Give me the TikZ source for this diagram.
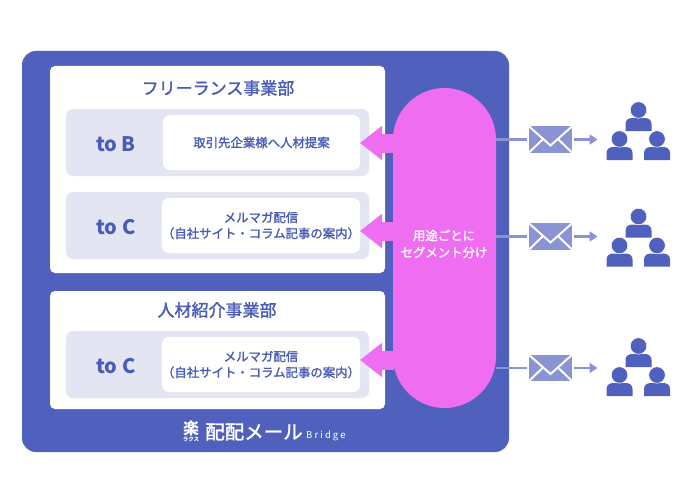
\documentclass[tikz,border=0pt]{standalone}
\usepackage{fontspec}
\setmainfont{Noto Sans CJK JP}
\newfontfamily\midfont[FakeBold=1.6]{Noto Sans CJK JP}
\usepackage{xcolor}
\usetikzlibrary{arrows.meta,positioning,calc,shapes.misc}
\definecolor{PanelC}{RGB}{79,97,189}
\definecolor{RowC}{RGB}{227,229,243}
\definecolor{PinkC}{RGB}{239,109,240}
\definecolor{MailC}{RGB}{138,147,212}
\definecolor{TextC}{RGB}{74,92,181}
\newcommand{\fs}[1]{\fontsize{#1}{#1}\selectfont}
\tikzset{
  panel/.style={rectangle,rounded corners=14pt,fill=PanelC,minimum width=487pt,minimum height=401pt,outer sep=0pt},
  dept/.style={rectangle,rounded corners=5pt,fill=white,minimum width=335pt,outer sep=0pt},
  depttitle/.style={font=\fs{17}\midfont,text=TextC,inner sep=0pt},
  rowbox/.style={rectangle,rounded corners=7pt,fill=RowC,minimum width=303pt,minimum height=67pt,outer sep=0pt},
  msgbox/.style={rectangle,rounded corners=7pt,fill=white,minimum width=197pt,minimum height=55pt,
                 font=\fs{12.4}\midfont,text=TextC,align=center,inner sep=0pt,outer sep=0pt},
  tolabel/.style={font=\fs{20}\bfseries,text=TextC,inner sep=0pt},
  segpill/.style={rounded rectangle,rounded rectangle arc length=180,fill=PinkC,minimum width=320pt,
                  minimum height=103pt,rotate=90,inner sep=0pt,outer sep=0pt},
  segtext/.style={font=\fs{12.4}\midfont,text=white,align=center,inner sep=0pt},
  segarrow/.style={-{Triangle[length=22pt,width=33pt]},line width=19pt,PinkC},
  mail/.style={rectangle,fill=MailC,minimum width=45pt,minimum height=28pt,inner sep=0pt,outer sep=0pt},
  mailline/.style={draw=white,line width=2pt},
  send/.style={-{Triangle[length=8pt,width=10pt]},line width=2.4pt,MailC},
  head/.style={circle,fill=PanelC,draw=white,line width=0.5pt,minimum size=16.5pt,inner sep=0pt,outer sep=0pt},
  pics/person/.style={code={
    \fill[PanelC] (-13,21) -- (-13,14) .. controls (-13,10) and (-10,8) .. (-6,8) -- (6,8)
      .. controls (10,8) and (13,10) .. (13,14) -- (13,21) -- cycle;
    \node[head] (#1h) at (0,0) {};
  }},
}
\begin{document}
\begin{tikzpicture}[x=1pt,y=-1pt]
  \useasboundingbox (0,0) rectangle (700,500);
  \node[panel] (main) at (265.5,251.5) {};
  \node[dept,minimum height=207pt] (free) at (217.5,169.5) {};
  \node[dept,minimum height=118pt] (agent) at (217.5,350) {};
  \node[depttitle] (freet) at (218,88) {フリーランス事業部};
  \node[depttitle] (agentt) at (217,310) {人材紹介事業部};

  % three rows
  \foreach \rname/\ry/\rlab/\rtext in {
      a/142.5/to B/{取引先企業様へ人材提案},
      b/225.5/to C/{メルマガ配信\\[3.5pt]（自社サイト・コラム記事の案内）},
      c/364.5/to C/{メルマガ配信\\[3.5pt]（自社サイト・コラム記事の案内）}}{
    \node[rowbox] (row\rname) at (217.5,\ry) {};
    \node[msgbox,anchor=east] (msg\rname) at ([xshift=-9pt]row\rname.east) {\rtext};
    \node[tolabel] (lab\rname) at (116,\ry+1.5) {\rlab};
  }

  \node[segpill] (seg) at (444.5,248) {};
  \coordinate (tipa) at (msga.east |- 0,143);
  \coordinate (tipb) at (msgb.east |- 0,231);
  \coordinate (tipc) at (msgc.east |- 0,360);
  \draw[segarrow] (seg.center |- tipa) ++(-51,0) coordinate (sa) -- (tipa);
  \draw[segarrow] (seg.center |- tipb) ++(-51,0) coordinate (sb) -- (tipb);
  \draw[segarrow] (seg.center |- tipc) ++(-51,0) coordinate (sc) -- (tipc);
  \node[segtext] (segt) at (444,244) {用途ごとに\\[4.5pt]セグメント分け};

  % mail and people
  \foreach \mname/\my/\py in {a/139.5/110,b/236.5/216.5,c/368/346}{
    \node[mail] (env\mname) at (550.5,\my) {};
    \coordinate (out\mname) at (444.5+51.5,\my);
    \coordinate (end\mname) at (597.5,\my);
    \draw[send,-] (out\mname) -- (env\mname.west);
    \draw[send] (env\mname.east) -- (end\mname);
    \draw[mailline] (env\mname.north west) -- ($(env\mname.center)+(0,6)$) -- (env\mname.north east);
    \draw[mailline] (env\mname.south west) -- ($(env\mname.center)+(-8,0)$);
    \draw[mailline] (env\mname.south east) -- ($(env\mname.center)+(8,0)$);
    \draw[white,line width=1.2pt] (env\mname.north west) rectangle (env\mname.south east);
    \pic at (638.5,\py) {person=pt\mname};
    \pic at (619.5,\py+29) {person=pl\mname};
    \pic at (657,\py+29) {person=pr\mname};
  }

  % logo
  \node[font=\fs{16}\bfseries,text=white,inner sep=0pt] (logo) at (191,428) {楽};
  \node[font=\fs{5.5}\bfseries,text=white,inner sep=0pt,below=1pt of logo] (logos) {ラクス};
  \node[font=\fs{19.5}\midfont,text=white,inner sep=0pt] (logom) at (254,432) {配配メール};
  \node[font=\fs{9.5},text=white,inner sep=0pt,anchor=west] (logob) at (306,435.5) {\addfontfeature{LetterSpace=22}Bridge};
\end{tikzpicture}
\end{document}
